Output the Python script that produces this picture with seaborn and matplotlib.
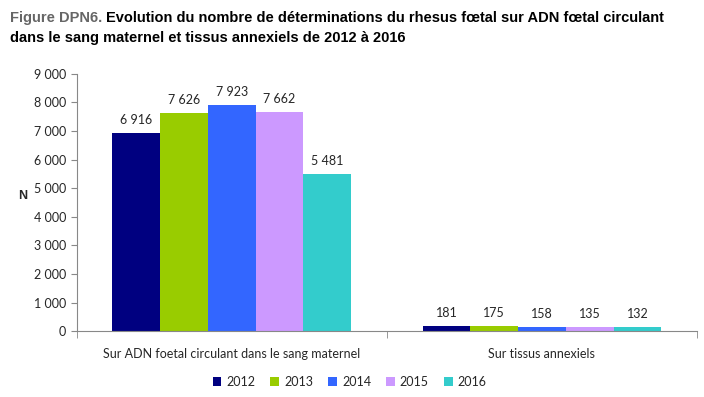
import pandas as pd
import matplotlib.pyplot as plt
import seaborn as sns

categories = ["Sur ADN foetal circulant dans le sang maternel", "Sur tissus annexiels"]
years = ["2012", "2013", "2014", "2015", "2016"]
adn_values = [6916, 7626, 7923, 7662, 5481]
tissus_values = [181, 175, 158, 135, 132]
colors = ["#000080", "#99CC00", "#3366FF", "#CC99FF", "#33CCCC"]

df = pd.DataFrame({
    "categorie": [categories[0]] * 5 + [categories[1]] * 5,
    "annee": years + years,
    "N": adn_values + tissus_values,
})

sns.set_style("white")
plt.rcParams["font.family"] = ["Lato", "DejaVu Sans"]

fig = plt.figure(figsize=(7.04, 3.97), dpi=100)
ax = fig.add_axes([0.109, 0.166, 0.881, 0.648])

sns.barplot(data=df, x="categorie", y="N", hue="annee", order=categories,
            hue_order=years, palette=colors, width=0.77, saturation=1,
            linewidth=0, ax=ax, legend=True)

for cont in ax.containers:
    ax.bar_label(cont, labels=[f"{v:,.0f}".replace(",", " ") for v in cont.datavalues],
                 padding=5, fontsize=9)

ax.set_ylim(0, 9000)
ax.set_xlim(-0.5, 1.5)
ax.set_yticks(range(0, 9001, 1000))
ax.set_yticklabels([f"{v:,}".replace(",", " ") for v in range(0, 9001, 1000)], fontsize=9)
ax.set_xticks([0, 1])
ax.set_xticklabels(categories, fontsize=9)
ax.set_xticks([-0.5, 0.5, 1.5], minor=True)
ax.tick_params(axis="x", which="major", length=0, pad=12)
ax.tick_params(axis="x", which="minor", length=5, color="#888888", direction="out", bottom=True)
ax.tick_params(axis="y", length=4, color="#888888", direction="out", left=True)
ax.set_xlabel("")
ax.set_ylabel("N", rotation=0, fontweight="bold", fontsize=9, labelpad=8,
              family=["Liberation Sans"])
for s in ["top", "right"]:
    ax.spines[s].set_visible(False)
for s in ["left", "bottom"]:
    ax.spines[s].set_color("#888888")

ax.legend(loc="upper center", bbox_to_anchor=(0.44, -0.13), ncol=5, frameon=False,
          fontsize=9, handlelength=0.7, handleheight=0.7, columnspacing=1.2,
          handletextpad=0.4)

fig.text(0.014, 0.955, "Figure DPN6.", color="#666666", fontweight="bold", fontsize=10.5,
         family=["Liberation Sans"], va="center")
fig.text(0.150, 0.955, "Evolution du nombre de déterminations du rhesus fœtal sur ADN fœtal circulant",
         color="black", fontweight="bold", fontsize=10.5, family=["Liberation Sans"], va="center")
fig.text(0.014, 0.905, "dans le sang maternel et tissus annexiels de 2012 à 2016",
         color="black", fontweight="bold", fontsize=10.5, family=["Liberation Sans"], va="center")

fig.savefig("out.png", dpi=100)
